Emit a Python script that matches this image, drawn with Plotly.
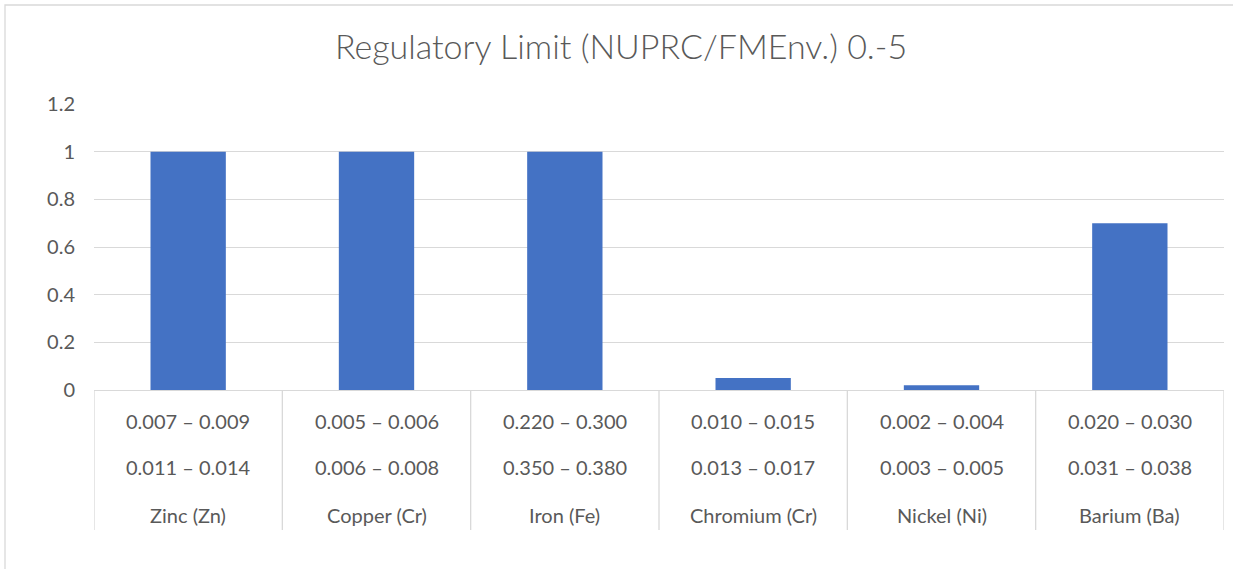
import plotly.graph_objects as go

# ---- data ----
elements = ["Zinc (Zn)", "Copper (Cr)", "Iron (Fe)", "Chromium (Cr)", "Nickel (Ni)", "Barium (Ba)"]
range_row1 = ["0.007 – 0.009", "0.005 – 0.006", "0.220 – 0.300", "0.010 – 0.015", "0.002 – 0.004", "0.020 – 0.030"]
range_row2 = ["0.011 – 0.014", "0.006 – 0.008", "0.350 – 0.380", "0.013 – 0.017", "0.003 – 0.005", "0.031 – 0.038"]
limits = [1, 1, 1, 0.05, 0.02, 0.7]
title_text = "Regulatory Limit (NUPRC/FMEnv.) 0.-5"
y_ticks = [0, 0.2, 0.4, 0.6, 0.8, 1, 1.2]
y_ticktext = ["0", "0.2", "0.4", "0.6", "0.8", "1", "1.2"]

W, H = 1233, 569
ML, MR, MT, MB = 94, 9, 104, 179
PW, PH = W - ML - MR, H - MT - MB
FONT = "Lato"
TXT = "#595959"
GRID = "#d9d9d9"
LBL = 20

n = len(elements)
xs = list(range(n))

fig = go.Figure(go.Bar(x=xs, y=limits, marker=dict(color="#4472C4", line=dict(width=0)),
                       width=0.4, hoverinfo="y"))

annotations = []
rows = [(range_row1, -31), (range_row2, -77), (elements, -125)]
for labels, shift in rows:
    for i, lab in zip(xs, labels):
        annotations.append(dict(x=i, xref="x", y=0, yref="paper", yanchor="middle",
                                yshift=shift, text=lab, showarrow=False,
                                font=dict(family=FONT, size=LBL, color=TXT)))

shapes = []
table_bottom = -140 / PH
for k in range(n + 1):
    shapes.append(dict(type="line", xref="x", yref="paper", x0=k - 0.5, x1=k - 0.5,
                       y0=0, y1=table_bottom, line=dict(color=GRID, width=1.3)))
# outer chart border (top + left visible, right/bottom beyond the canvas)
shapes.append(dict(type="rect", xref="paper", yref="paper",
                   x0=(5 - ML) / PW, x1=(W + 20 - ML) / PW,
                   y0=-(MB + 20) / PH, y1=(H - MB - 5) / PH,
                   line=dict(color=GRID, width=1.3), layer="below"))

fig.update_layout(
    width=W, height=H,
    margin=dict(l=ML, r=MR, t=MT, b=MB),
    paper_bgcolor="white", plot_bgcolor="white",
    title=dict(text=title_text, x=621 / W, xanchor="center", xref="container",
               y=1 - 47 / H, yanchor="middle",
               font=dict(family=FONT, size=34, color=TXT, weight=300)),
    xaxis=dict(range=[-0.5, n - 0.5], showticklabels=False, showgrid=False,
               zeroline=False, showline=False, ticks=""),
    yaxis=dict(range=[0, 1.2], tickvals=y_ticks, ticktext=y_ticktext,
               showgrid=True, gridcolor=GRID, gridwidth=1.3,
               zeroline=True, zerolinecolor=GRID, zerolinewidth=1.3,
               showline=False, ticks="", ticklabelstandoff=18,
               tickfont=dict(family=FONT, size=LBL, color=TXT)),
    showlegend=False,
    annotations=annotations,
    shapes=shapes,
    bargap=0.6,
)

fig.write_html("out.html", config={"displayModeBar": False},
               post_script="document.body.style.margin='0';document.body.style.overflow='hidden';")
